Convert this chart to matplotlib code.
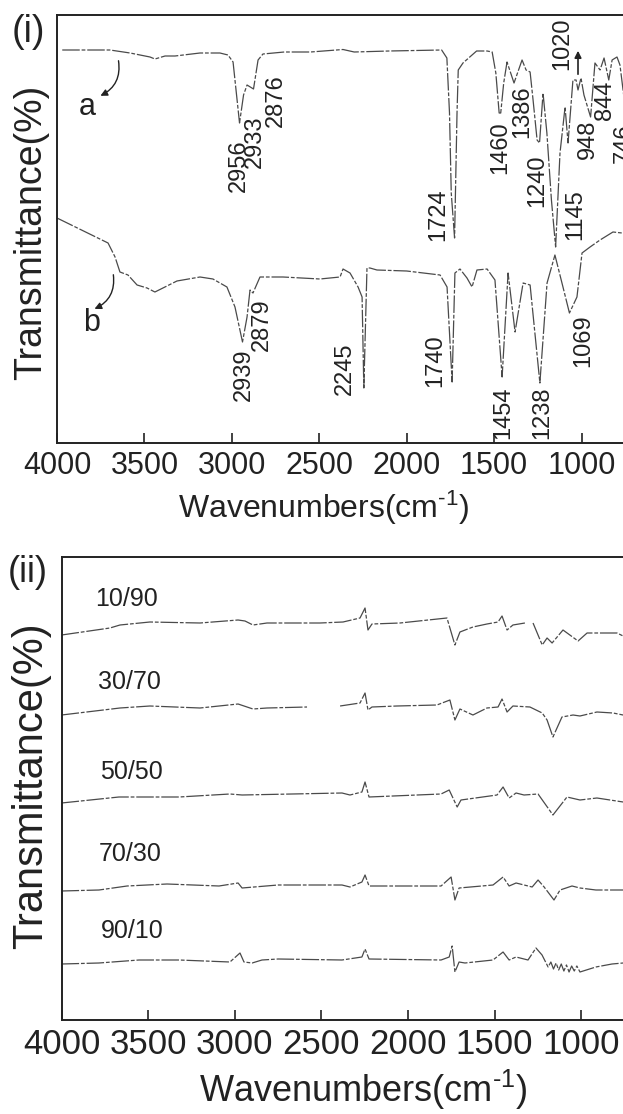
import matplotlib
matplotlib.use("Agg")
import numpy as np
import matplotlib.pyplot as plt

plt.rcParams['font.family'] = ['Liberation Sans', 'DejaVu Sans']
plt.rcParams['mathtext.fontset'] = 'custom'
plt.rcParams['mathtext.rm'] = 'Liberation Sans'
plt.rcParams['mathtext.default'] = 'regular'

W, H = 623, 1114

# ---- panel (i): spectrum a (upper) ----
wn_a = [3970, 3697, 3582, 3468, 3440, 3382, 3325, 3182, 3068, 3022, 2993, 2976,
        2956, 2933, 2913, 2876, 2850, 2822, 2700, 2550, 2364, 2300, 2100, 1800,
        1770, 1755, 1745, 1726, 1712, 1705, 1678, 1600, 1540, 1511, 1490, 1471,
        1462, 1445, 1426, 1386, 1340, 1317, 1294, 1277, 1254, 1240, 1220, 1198,
        1172, 1148, 1123, 1094, 1077, 1049, 1031, 1020, 1003, 986, 948, 923,
        894, 871, 844, 825, 797, 780, 746, 720]
t_a = [393, 393, 390, 386, 384, 387, 387, 390, 390, 388, 381, 353,
       320, 348, 358, 354, 383, 389, 391, 391, 393.5, 391, 392, 393,
       385, 330, 250, 205, 330, 373, 380, 392, 392, 391, 370, 330,
       330, 360, 381, 360, 383, 373, 371, 343, 303, 300, 350, 310,
       243, 196, 290, 336, 300, 363, 363, 353, 365, 348, 326, 380,
       373, 385, 363, 383, 386, 378, 330, 380]

# ---- panel (i): spectrum b (lower) ----
wn_b = [4000, 3708, 3668, 3640, 3594, 3542, 3485, 3440, 3394, 3314, 3182, 3108,
        3028, 2982, 2939, 2913, 2896, 2879, 2839, 2707, 2496, 2381, 2364, 2324,
        2278, 2255, 2245, 2227, 2210, 2170, 2000, 1809, 1769, 1740, 1724, 1695,
        1655, 1626, 1598, 1540, 1495, 1454, 1420, 1380, 1334, 1294, 1238, 1197,
        1152, 1106, 1069, 1026, 997, 951, 894, 820, 768, 700]
t_b = [225, 200, 186, 171, 168, 158, 155, 151, 155, 162, 166, 164,
       156, 136, 101, 126, 153, 150, 166, 166, 164, 166, 174, 170,
       156, 146, 55, 175, 175, 173, 172, 168, 156, 61, 170, 174,
       165, 156, 173, 174, 163, 66, 170, 111, 160, 158, 60, 160,
       188, 156, 130, 146, 190, 196, 203, 211, 210, 212]

peaks_a = ['2956', '2933', '2876', '1724', '1460', '1386', '1240', '1145',
           '1020', '948', '844', '746']
peaks_b = ['2939', '2879', '2245', '1740', '1454', '1238', '1069']

# ---- panel (ii): blend ratios ----
ratios = ['10/90', '30/70', '50/50', '70/30', '90/10']

wn_1090 = [4000, 3721, 3663, 3490, 3201, 2981, 2941, 2895, 2854, 2814, 2508, 2375,
           2277, 2248, 2231, 2208, 2046, 1775, 1729, 1700, 1625, 1544, 1480, 1457,
           1428, 1394, 1325, np.nan, 1278, 1225, 1197, 1168, 1105, 1018, 966, 891,
           793, 758]
t_1090 = [385, 392, 395, 398, 397, 400, 399, 395, 396, 397, 397, 398,
          402, 412, 390, 396, 397, 402, 375, 388, 393, 396, 398, 404,
          390, 395, 397, np.nan, 397, 375, 382, 377, 390, 379, 387, 387,
          387, 384]

wn_3070 = [4000, 3663, 3490, 3201, 2981, 2895, 2814, 2583, np.nan, 2392, 2277, 2248,
           2231, 2208, 2064, 1833, 1758, 1729, 1700, 1625, 1544, 1480, 1457, 1428,
           1394, 1296, 1225, 1197, 1163, 1111, 1047, 1007, 909, 816, 758]
t_3070 = [305, 312, 314, 312, 316, 311, 312, 313, np.nan, 314, 317, 327,
          310, 313, 314, 315, 320, 300, 311, 305, 312, 313, 321, 308,
          314, 313, 307, 300, 283, 303, 305, 304, 308, 307, 305]

wn_5050 = [4000, 3669, 3322, 3028, 2958, 2381, 2335, 2266, 2248, 2225, 1809, 1762,
           1716, 1694, 1486, 1451, 1416, 1376, 1330, 1249, 1163, 1082, 1007, 909, 758]
t_5050 = [217, 223, 223, 226, 225, 227, 225, 228, 238, 223, 226, 230,
          213, 220, 225, 233, 222, 227, 225, 226, 205, 223, 220, 222, 218]

wn_7030 = [4000, 3784, 3622, 3391, 3091, 2981, 2958, 2889, 2750, 2381, 2335, 2266,
           2248, 2225, 1809, 1751, 1729, 1705, 1509, 1451, 1416, 1376, 1283, 1249,
           1214, 1157, 1122, 1053, 1007, 915, 758]
t_7030 = [129, 130, 134, 136, 134, 137, 132, 133, 135, 135, 133, 138,
          145, 134, 134, 143, 120, 132, 135, 143, 134, 137, 133, 140,
          133, 120, 130, 134, 132, 130, 130]

wn_9010 = [4000, 3784, 3553, 3322, 3028, 2970, 2947, 2900, 2843, 2750, 2381, 2266,
           2248, 2225, 1809, 1762, 1745, 1729, 1705, 1671, 1509, 1451, 1416, 1376,
           1307, 1261, 1226, 1191, 1175, 1160, 1145, 1130, 1115, 1100, 1085, 1070,
           1055, 1040, 1025, 1007, 915, 822, 758]
t_9010 = [56, 57, 60, 60, 58, 67, 58, 57, 60, 61, 60, 63,
          71, 61, 60, 63, 74, 48, 58, 57, 60, 68, 60, 63,
          60, 72, 65, 53, 58, 51, 57, 50, 56, 49, 55, 48,
          54, 49, 54, 48, 53, 56, 57]

blend_wn = [wn_1090, wn_3070, wn_5050, wn_7030, wn_9010]
blend_t = [t_1090, t_3070, t_5050, t_7030, t_9010]


def fx(x):
    return x / W


def fy(y):
    return 1 - y / H


line_kw = dict(color='#4a4a4a', lw=0.9, ls=(0, (14, 1.5, 3, 1.5)))
xlab = 'Wavenumbers(cm$^{\\text{-}1}$)'

fig = plt.figure(figsize=(W / 100, H / 100), dpi=100)


def style_axes(ax, tick_size):
    ax.set_xlim(4000, 400)
    ax.set_xticks([4000, 3500, 3000, 2500, 2000, 1500, 1000])
    ax.set_yticks([])
    ax.tick_params(axis='x', direction='in', length=7, width=1.2,
                   labelsize=tick_size, pad=6, colors='#222222')
    for s in ax.spines.values():
        s.set_linewidth(1.4)
        s.set_color('#222222')


# ---------------- panel (i) ----------------
ax1 = fig.add_axes([fx(57), fy(443), 629.4 / W, 428 / H])
style_axes(ax1, 22)
ax1.set_ylim(0, 428)
ax1.plot(wn_a, t_a, **line_kw)
ax1.plot(wn_b, t_b, **line_kw)

# peak labels of a (positions in data units)
pos_a = [(2959, 277), (2867, 301), (2747, 342), (1821, 228), (1466, 295),
         (1340, 331), (1254, 262), (1037, 228), (1111, 399), (963, 304),
         (865, 343), (757, 300)]
for lab, (x, y) in zip(peaks_a, pos_a):
    ax1.text(x, y, lab, rotation=90, ha='center', va='center', fontsize=17,
             color='#222222')
pos_b = [(2933, 68), (2827, 118), (2353, 74), (1838, 82), (1449, 30),
         (1226, 30), (991, 102)]
for lab, (x, y) in zip(peaks_b, pos_b):
    ax1.text(x, y, lab, rotation=90, ha='center', va='center', fontsize=17,
             color='#222222')

ax1.annotate('', xy=(1020, 395), xytext=(1020, 366),
             arrowprops=dict(arrowstyle='-|>', color='#222222', lw=1.2,
                             mutation_scale=10))

ax1.text(3828, 336, 'a', ha='center', va='center', fontsize=22, color='#222222')
ax1.annotate('', xy=(3766, 346), xytext=(3651, 385),
             arrowprops=dict(arrowstyle='-|>', color='#222222', lw=1.0,
                             mutation_scale=10,
                             connectionstyle='arc3,rad=-0.4'))
ax1.text(3800, 120, 'b', ha='center', va='center', fontsize=22, color='#222222')
ax1.annotate('', xy=(3800, 133), xytext=(3680, 171),
             arrowprops=dict(arrowstyle='-|>', color='#222222', lw=1.0,
                             mutation_scale=10,
                             connectionstyle='arc3,rad=-0.4'))

fig.text(fx(12), fy(32), '(i)', fontsize=27, ha='left', va='center', color='#222222')
fig.text(fx(31), fy(232), 'Transmittance(%)', rotation=90, fontsize=27,
         ha='center', va='center', color='#222222')
fig.text(fx(324), fy(508), xlab, fontsize=23,
         ha='center', va='center', color='#222222')

# ---------------- panel (ii) ----------------
ax2 = fig.add_axes([fx(61.6), fy(1020), 623.5 / W, 463 / H])
style_axes(ax2, 25)
ax2.set_ylim(0, 463)
for w, t in zip(blend_wn, blend_t):
    ax2.plot(w, t, **line_kw)

lab_pos = [(3807, 421), (3790, 338), (3778, 248), (3784, 166), (3772, 89)]
for lab, (x, y) in zip(ratios, lab_pos):
    ax2.text(x, y, lab, ha='left', va='center', fontsize=18, color='#222222')

fig.text(fx(8), fy(572), '(ii)', fontsize=26, ha='left', va='center', color='#222222')
fig.text(fx(31), fy(786), 'Transmittance(%)', rotation=90, fontsize=30,
         ha='center', va='center', color='#222222')
fig.text(fx(363), fy(1090), xlab, fontsize=26,
         ha='center', va='center', color='#222222')

fig.savefig('out.png', dpi=100)
